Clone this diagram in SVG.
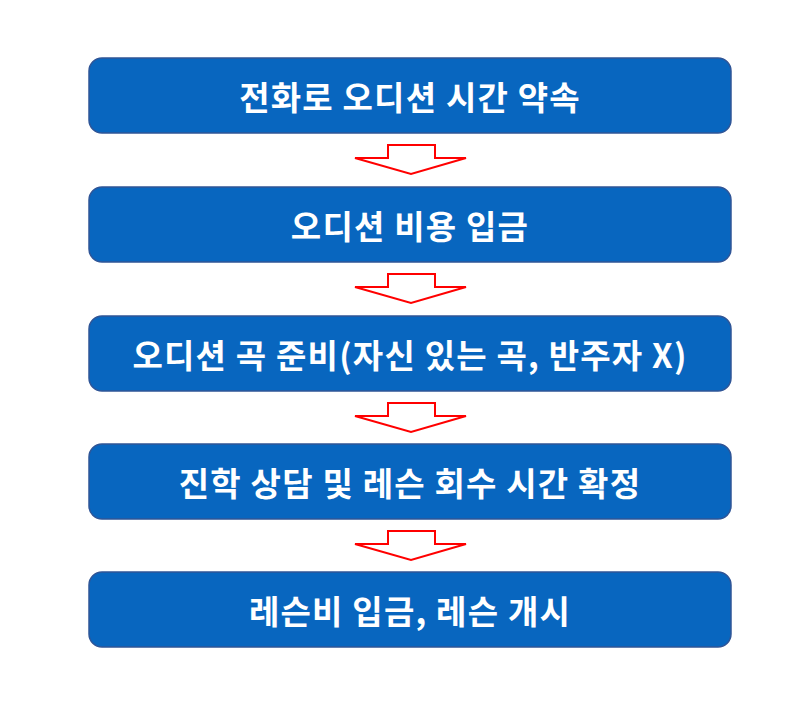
<svg xmlns="http://www.w3.org/2000/svg" width="800" height="705" viewBox="0 0 800 705">
<defs>
<style>
.box{fill:#0866BF;stroke:#2F5597;stroke-width:1.5}
.lbl{fill:#fff;font-family:"Noto Sans CJK KR","Noto Sans",sans-serif;font-weight:bold;font-size:33px;letter-spacing:1.2px;text-anchor:middle;dominant-baseline:central}
.arr{fill:#fff;stroke:#FF0000;stroke-width:2;stroke-linejoin:miter}
</style>
<path id="ar" d="M-23,0 H24 V13 H55 L0,29 L-56,13 H-23 Z"/>
</defs>
<rect width="800" height="705" fill="#fff"/>
<g id="connectors">
<use href="#ar" class="arr" x="411" y="145"/>
<use href="#ar" class="arr" x="411" y="274"/>
<use href="#ar" class="arr" x="411" y="403"/>
<use href="#ar" class="arr" x="411" y="531"/>
</g>
<g id="n1"><rect class="box" x="89" y="58" width="642" height="75" rx="13"/><text class="lbl" x="410" y="96">전화로 오디션 시간 약속</text></g>
<g id="n2"><rect class="box" x="89" y="187" width="642" height="75" rx="13"/><text class="lbl" x="410" y="225">오디션 비용 입금</text></g>
<g id="n3"><rect class="box" x="89" y="316" width="642" height="75" rx="13"/><text class="lbl" x="410" y="354">오디션 곡 준비(자신 있는 곡, 반주자 X)</text></g>
<g id="n4"><rect class="box" x="89" y="444" width="642" height="75" rx="13"/><text class="lbl" x="410" y="482">진학 상담 및 레슨 회수 시간 확정</text></g>
<g id="n5"><rect class="box" x="89" y="572" width="642" height="75" rx="13"/><text class="lbl" x="410" y="610">레슨비 입금, 레슨 개시</text></g>
</svg>
